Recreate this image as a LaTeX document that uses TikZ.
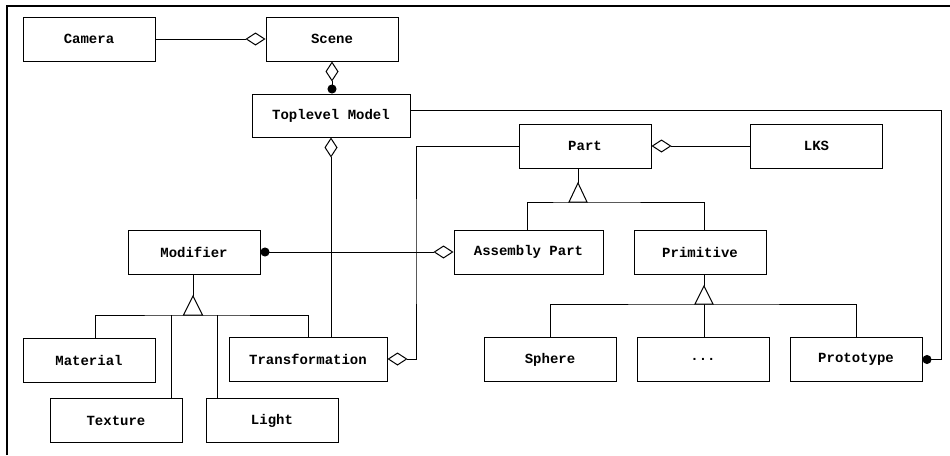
\documentclass[tikz,border=0pt]{standalone}
\usepackage{fontspec}
\setmonofont{Liberation Mono}
\usetikzlibrary{arrows.meta}
\tikzset{
  odiam/.tip={Diamond[open,length=20pt,width=13pt]},
  fdot/.tip={Circle[length=9pt]},
}
\begin{document}
\begin{tikzpicture}[x=1pt,y=-1pt,
  cls/.style={draw, line width=1pt, minimum width=132pt, minimum height=44pt,
              inner sep=0pt, font=\ttfamily\bfseries\fontsize{14}{16}\selectfont},
  link/.style={line width=1pt},
  gen/.style={line width=1pt, fill=white},
]
\useasboundingbox (0,0) rectangle (950,455);

% outer frame (top and left only)
\draw[line width=2pt] (7,455) -- (7,6) -- (950,6);

% classes
\node[cls] (camera) at (89,39) {Camera};
\node[cls] (scene) at (332,39) {Scene};
\node[cls, minimum width=158pt, minimum height=43pt] (toplevel) at (331,115.5) {Toplevel Model};
\node[cls] (part) at (585,146) {Part};
\node[cls] (lks) at (816.5,146) {LKS};
\node[cls] (modifier) at (194,252) {Modifier};
\node[cls, minimum width=149pt] (assembly) at (528.5,252) {Assembly Part};
\node[cls] (primitive) at (700,252) {Primitive};
\node[cls] (material) at (89,360) {Material};
\node[cls, minimum width=158pt] (transformation) at (308,359) {Transformation};
\node[cls] (sphere) at (550,359.5) {Sphere};
\node[cls] (etc) at (703,359.5) {...};
\node[cls] (prototype) at (856,359.5) {Prototype};
\node[cls] (texture) at (116,420.5) {Texture};
\node[cls] (light) at (272,420.5) {Light};

% helper points for routed connectors
\coordinate (rtcorner) at (941,110);
\coordinate (bend) at (416,250);
\coordinate (modtip) at (193,296);
\coordinate (modbus) at (193,315);
\coordinate (parttip) at (578,183);
\coordinate (partbus) at (578,202);
\coordinate (primtip) at (704,286);
\coordinate (primbus) at (704,304);

% aggregations and compositions
\draw[link, -odiam] (camera.east) -- (scene.west);
\draw[link, odiam-fdot] (scene.south) -- (scene.south |- toplevel.north);
\draw[link, odiam-] (toplevel.south) -- (toplevel.south |- transformation.north);
\draw[link, -fdot] ([yshift=5.5pt]toplevel.east) -- (rtcorner) |- (prototype.east);
\draw[link, -odiam] (part.west) -| (bend) |- (transformation.east);
\draw[link, odiam-] (part.east) -- (lks.west);
\draw[link, fdot-odiam] (modifier.east) -- (assembly.west);

% generalisation: Modifier
\draw[link] (modifier.south -| modtip) -- (modtip);
\draw[link] ([xshift=6pt]material.north) |- (modbus) -| (transformation.north);
\draw[link] ([xshift=55pt]texture.north) -- ([xshift=55pt]texture.north |- modbus);
\draw[link] ([xshift=-55pt]light.north) -- ([xshift=-55pt]light.north |- modbus);
\draw[gen] (modtip) -- ++(-9.5,19) -- ++(19,0) -- cycle;

% generalisation: Part
\draw[link] (parttip |- part.south) -- (parttip);
\draw[link] ([xshift=-1.5pt]assembly.north) |- (partbus) -| ([xshift=4pt]primitive.north);
\draw[gen] (parttip) -- ++(-9,19) -- ++(18,0) -- cycle;

% generalisation: Primitive
\draw[link] ([xshift=4pt]primitive.south) -- (primtip);
\draw[link] (sphere.north) |- (primbus) -| (prototype.north);
\draw[link] ([xshift=1pt]etc.north) -- (primbus);
\draw[gen] (primtip) -- ++(-9,18) -- ++(18,0) -- cycle;
\end{tikzpicture}
\end{document}
